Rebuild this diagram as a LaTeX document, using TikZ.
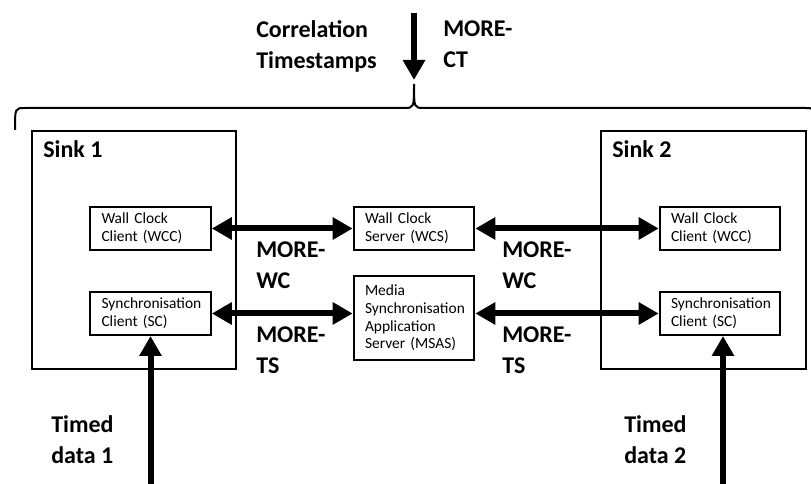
\documentclass[tikz,border=0pt]{standalone}
\usepackage{fontspec}
\setmainfont{Carlito}
\usetikzlibrary{arrows.meta}

\tikzset{
  unit/.style={draw, line width=1.5pt, align=left, text width=73.5pt, inner xsep=8.5pt,
    minimum height=32.25pt, font=\fontsize{11.6}{13.3}\selectfont},
  sinkbox/.style={draw, line width=1.5pt, minimum width=153pt, minimum height=178.5pt},
  lbl/.style={font=\fontsize{18}{23}\selectfont\bfseries, align=left, inner sep=0pt, anchor=west},
  twoway/.style={line width=4.5pt, arrows={Triangle[length=15pt,width=16pt]-Triangle[length=15pt,width=16pt]}},
  oneway/.style={line width=4.5pt, arrows={-Triangle[length=15pt,width=16pt]}},
  bracket/.style={line width=1.5pt}
}

\begin{document}
\begin{tikzpicture}[x=0.75pt, y=-0.75pt]
  \useasboundingbox (0,0) rectangle (811,484);

  % the two sinks
  \node[sinkbox] (sink1) at (134,250) {};
  \node[sinkbox, minimum width=153.75pt] (sink2) at (703.5,250) {};
  \node[lbl, anchor=base west] (sink1lbl) at (43,158) {Sink 1};
  \node[lbl, anchor=base west] (sink2lbl) at (612,158) {Sink 2};

  % clients and servers
  \node[unit] (wcc1) at (150.5,228.5) {Wall Clock\\Client (WCC)};
  \node[unit] (sc1) at (150.5,313.5) {Synchronisation\\Client (SC)};
  \node[unit] (wcs) at (414,228.5) {Wall Clock\\Server (WCS)};
  \node[unit, minimum height=63pt] (msas) at (414,318) {Media\\Synchronisation\\Application\\Server (MSAS)};
  \node[unit] (wcc2) at (720,228.5) {Wall Clock\\Client (WCC)};
  \node[unit] (sc2) at (720,313.5) {Synchronisation\\Client (SC)};

  % protocols
  \draw[twoway] (wcc1) -- (wcs);
  \draw[twoway] (wcs) -- (wcc2);
  \draw[twoway] (sc1.east) -- (sc1.east -| msas.west);
  \draw[twoway] (sc2.west -| msas.east) -- (sc2.west);

  \node[lbl] (wclbl1) at (256,265) {MORE-\\WC};
  \node[lbl] (wclbl2) at (502,265) {MORE-\\WC};
  \node[lbl] (tslbl1) at (256,350.5) {MORE-\\TS};
  \node[lbl] (tslbl2) at (502,350.5) {MORE-\\TS};

  % timed data in
  \coordinate (td1) at (150.5,484);
  \coordinate (td2) at (723,484);
  \draw[oneway] (td1) -- (td1 |- sc1.south);
  \draw[oneway] (td2) -- (td2 |- sc2.south);
  \node[lbl] (td1lbl) at (51,440) {Timed\\data 1};
  \node[lbl] (td2lbl) at (624,440) {Timed\\data 2};

  % correlation timestamps
  \coordinate (ct) at (414,13);
  \coordinate (ctend) at (414,80);
  \draw[oneway] (ct) -- (ctend);
  \node[lbl] (corrlbl) at (256,46.5) {Correlation\\Timestamps};
  \node[lbl] (ctlbl) at (443,44.5) {MORE-\\CT};
  \draw[bracket] (15,130) .. controls (15,108) .. (25,108) -- (404,108)
    .. controls (414,108) .. (414,84) .. controls (414,108) .. (424,108)
    -- (805,108) .. controls (815,108) .. (815,130);
\end{tikzpicture}
\end{document}
